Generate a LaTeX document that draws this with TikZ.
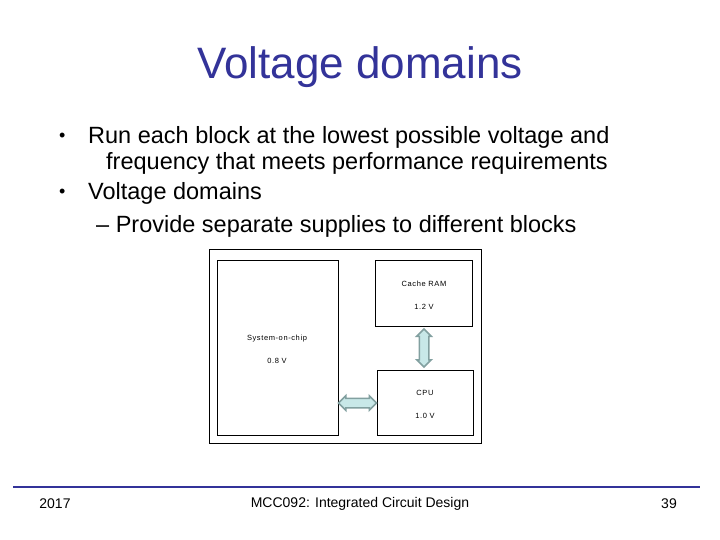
\documentclass[tikz,border=0pt]{standalone}
\usepackage{fontspec}
\setmainfont{Liberation Sans}
\usetikzlibrary{shapes.arrows}
\definecolor{ttl}{RGB}{51,51,153}
\definecolor{afill}{RGB}{200,232,232}
\definecolor{aedge}{RGB}{130,160,160}
\begin{document}
\begin{tikzpicture}[x=1pt,y=-1pt,
  box/.style={draw=black,line width=0.8pt},
  lbl/.style={font=\fontsize{7.5}{8}\selectfont\addfontfeature{LetterSpace=8}},
  fat/.style={double arrow,fill=afill,draw=aedge,line width=1.5pt,double arrow head extend=2.5pt,inner sep=4pt},
  bul/.style={anchor=west,font=\fontsize{23.5}{28}\selectfont,inner sep=0pt},
  foot/.style={font=\fontsize{14}{16}\selectfont,inner sep=0pt}]
\useasboundingbox (0,0) rectangle (720,540);
\fill[white] (0,0) rectangle (720,540);
\node[font=\fontsize{44}{50}\selectfont,text=ttl] (title) at (360,67) {Voltage domains};
\node[bul,font=\fontsize{18}{20}\selectfont] (b1) at (59,137) {•};
\node[bul] (t1) at (88,137) {Run each block at the lowest possible voltage and};
\node[bul] (t1b) at (106,163) {frequency that meets performance requirements};
\node[bul,font=\fontsize{18}{20}\selectfont] (b2) at (59,193) {•};
\node[bul] (t2) at (88,193) {Voltage domains};
\node[bul] (t3) at (96,226) {– Provide separate supplies to different blocks};
\draw[box] (209,249) rectangle (481,443);
\draw[box] (217,260) rectangle (338,435);
\draw[box] (375,260) rectangle (472,326);
\draw[box] (377,370) rectangle (473,435);
\node[lbl] (soc) at (277,339) {System-on-chip};
\node[lbl] (socv) at (277,361) {0.8 V};
\node[lbl] (c) at (424,284) {Cache RAM};
\node[lbl] (cv) at (424,307) {1.2 V};
\node[lbl] (p) at (425,393) {CPU};
\node[lbl] (pv) at (425,416) {1.0 V};
\node[fat,minimum height=38pt,rotate=90] (va) at (424,348) {};
\node[fat,minimum height=38pt] (ha) at (357.5,403) {};
\draw[ttl,line width=2pt] (13,487) -- (700,487);
\node[foot] (y) at (55,504) {2017};
\node[foot] (m) at (360,504) {MCC092: Integrated Circuit Design};
\node[foot] (n) at (669,504) {39};
\end{tikzpicture}
\end{document}
